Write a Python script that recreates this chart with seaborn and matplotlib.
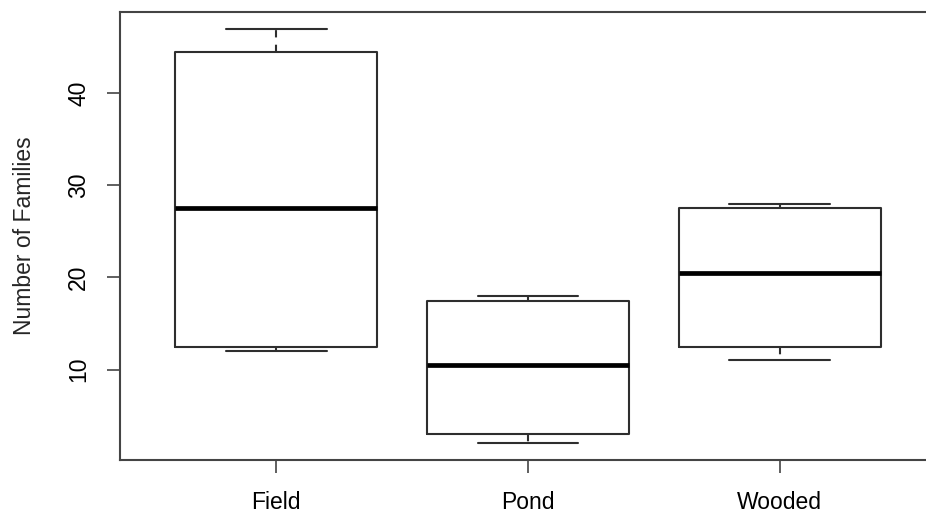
import matplotlib
matplotlib.use("Agg")
import matplotlib.pyplot as plt
import numpy as np
import pandas as pd
import seaborn as sns

# five-number summaries (min, Q1, median, Q3, max)
habitats = ["Field", "Pond", "Wooded"]
field = [12, 12.5, 27.5, 44.5, 47]
pond = [2, 3, 10.5, 17.5, 18]
wooded = [11, 12.5, 20.5, 27.5, 28]
yticks = [10, 20, 30, 40]

df = pd.DataFrame({
    "habitat": np.repeat(habitats, 5),
    "families": field + pond + wooded,
})

sns.set_theme(style="white")
plt.rcParams["font.family"] = ["Liberation Sans", "DejaVu Sans"]

fig = plt.figure(figsize=(9.26, 5.18), dpi=100)
ax = fig.add_axes([120 / 926, 58 / 518, 816 / 926, 448 / 518])

edge = "#2e2e2e"
sns.boxplot(data=df, x="habitat", y="families", order=habitats, ax=ax,
            fill=False, color=edge, linewidth=1.5, width=0.8, whis=1.5,
            medianprops={"color": "black", "linewidth": 3.4},
            whiskerprops={"linestyle": (0, (3.5, 3.5))})

# R-style 4% padding around the data range
lo, hi = df["families"].min(), df["families"].max()
pad = (hi - lo) * 0.04
ax.set_ylim(lo - pad, hi + pad)
ax.set_xlim(-0.62, 2.62)
ax.set_yticks(yticks)

for s in ax.spines.values():
    s.set_visible(True)
    s.set_color("#444444")
    s.set_linewidth(1.5)

ax.tick_params(axis="both", which="major", direction="out", length=9.5,
               width=1.2, color="#444444", labelsize=16.5, labelcolor="black",
               bottom=True, left=True)
ax.tick_params(axis="y", pad=12)
ax.tick_params(axis="x", pad=13)
for lab in ax.get_yticklabels():
    lab.set_rotation(90)
    lab.set_va("center")

ax.set_xlabel("")
ax.set_ylabel("Number of Families", fontsize=16.5, va="center")
ax.yaxis.set_label_coords(-96 / 816, 0.5)

fig.savefig("out.png", dpi=100)
